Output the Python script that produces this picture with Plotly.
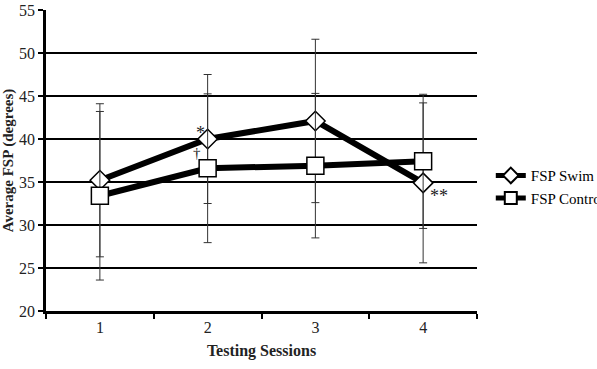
import plotly.graph_objects as go

sessions = ["1", "2", "3", "4"]
swim = [35.2, 40.0, 42.1, 34.9]
swim_err = [8.9, 7.5, 9.5, 9.3]
control = [33.4, 36.6, 36.9, 37.4]
control_err = [9.8, 8.65, 8.4, 7.8]
yticks = [20, 25, 30, 35, 40, 45, 50, 55]

FONT = "Liberation Serif, DejaVu Serif, serif"

fig = go.Figure()
fig.add_trace(go.Scatter(
    x=sessions, y=swim, name="FSP Swim", mode="lines+markers",
    line=dict(color="black", width=6),
    marker=dict(symbol="diamond", size=15, color="white", line=dict(color="black", width=1.5)),
    error_y=dict(type="data", array=swim_err, visible=True, color="#333333", thickness=1, width=4),
))
fig.add_trace(go.Scatter(
    x=sessions, y=control, name="FSP Control", mode="lines+markers",
    line=dict(color="black", width=6),
    marker=dict(symbol="square", size=17, color="white", line=dict(color="black", width=1.5)),
    error_y=dict(type="data", array=control_err, visible=True, color="#333333", thickness=1, width=4),
))

ann_font = dict(family=FONT, size=18, color="#222222")
# category indices: 1 -> session "2", 3 -> session "4"
fig.add_annotation(x=1, y=swim[1], text="*", showarrow=False, xshift=-7, yshift=6, font=ann_font)
fig.add_annotation(x=1, y=control[1], text="†", showarrow=False, xshift=-11, yshift=15, font=dict(family=FONT, size=15, color="#222222"))
fig.add_annotation(x=3, y=swim[3], text="**", showarrow=False, xshift=16, yshift=-13, font=ann_font)

fig.update_layout(
    width=597, height=369,
    margin=dict(l=46, r=120, t=10, b=58, autoexpand=False),
    paper_bgcolor="white", plot_bgcolor="white",
    font=dict(family=FONT, size=16, color="#222222"),
    showlegend=True,
    legend=dict(x=1.032, y=0.413, xanchor="left", yanchor="middle",
                font=dict(family=FONT, size=15, color="black"),
                itemsizing="constant",
                tracegroupgap=0, itemwidth=30, bgcolor="rgba(0,0,0,0)"),
)
fig.update_xaxes(
    type="category", range=[-0.5, 3.5], showgrid=False, showline=True, linecolor="black", linewidth=2.5,
    ticks="outside", tickson="boundaries", ticklen=5, tickwidth=2, tickcolor="black",
    title=dict(text="<b>Testing Sessions</b>", standoff=10, font=dict(family=FONT, size=16, color="#222222")),
)
fig.update_yaxes(
    range=[20, 55], tickvals=yticks, showgrid=True, gridcolor="black", gridwidth=2,
    showline=True, linecolor="black", linewidth=2.5, zeroline=False,
    ticks="outside", ticklen=5, tickwidth=2, tickcolor="black",
    title=dict(text="<b>Average FSP (degrees)</b>", standoff=2, font=dict(family=FONT, size=15, color="#222222")),
)

fig.write_html("out.html")
